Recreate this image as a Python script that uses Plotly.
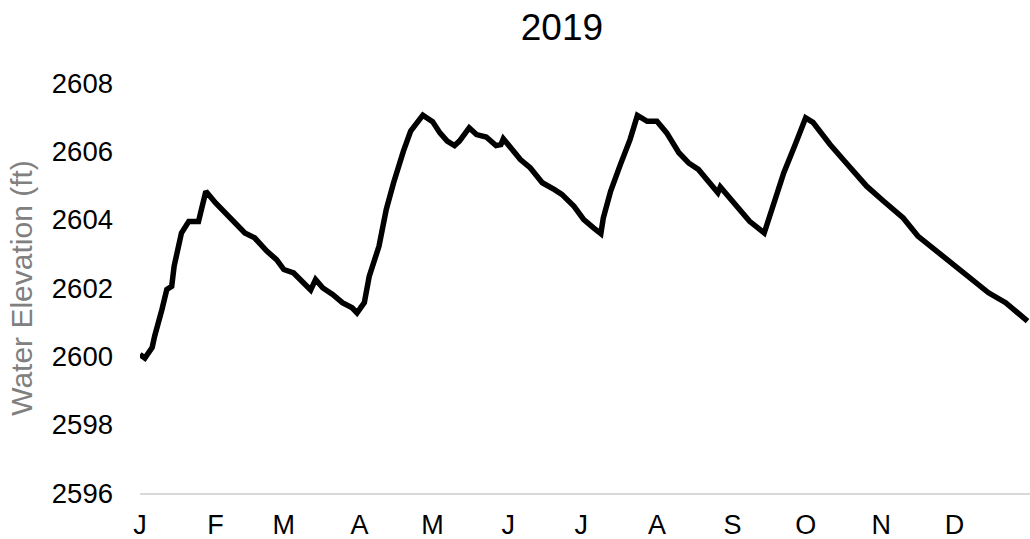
import pandas as pd
import plotly.graph_objects as go

day_of_year = [0, 2, 5, 6, 9, 11, 13, 14, 17, 18, 20, 24, 25, 27, 31, 35, 39, 43, 47, 52,
               56, 59, 63, 67, 70, 72, 75, 79, 83, 87, 89, 92, 94, 98, 101, 104, 106, 108, 111, 116,
               120, 123, 126, 129, 131, 135, 138, 142, 146, 148, 149, 152, 156, 160, 165, 170, 173, 178, 182, 186,
               189, 190, 193, 197, 201, 204, 208, 212, 216, 221, 225, 229, 233, 237, 238, 244, 250, 256, 260, 264,
               269, 273, 276, 283, 289, 298, 305, 313, 319, 326, 333, 341, 348, 355, 361, 364]
elevation = [2600.05, 2599.95, 2600.26, 2600.59, 2601.37, 2601.96, 2602.05, 2602.64, 2603.61, 2603.71,
             2603.95, 2603.95, 2604.20, 2604.83, 2604.49, 2604.20, 2603.86, 2603.61, 2603.47, 2603.08,
             2602.83, 2602.54, 2602.44, 2602.15, 2601.94, 2602.25, 2602.00, 2601.81, 2601.57, 2601.42,
             2601.27, 2601.57, 2602.34, 2603.22, 2604.30, 2605.08, 2605.56, 2606.00, 2606.59, 2607.06,
             2606.87, 2606.54, 2606.30, 2606.17, 2606.30, 2606.69, 2606.49, 2606.42, 2606.17, 2606.20,
             2606.37, 2606.10, 2605.76, 2605.52, 2605.08, 2604.88, 2604.74, 2604.39, 2604.00, 2603.76,
             2603.59, 2604.05, 2604.83, 2605.61, 2606.35, 2607.05, 2606.88, 2606.88, 2606.54, 2605.96,
             2605.66, 2605.47, 2605.12, 2604.79, 2604.96, 2604.44, 2603.95, 2603.61, 2604.49, 2605.37,
             2606.25, 2606.98, 2606.85, 2606.20, 2605.71, 2604.98, 2604.54, 2604.05, 2603.52, 2603.13,
             2602.74, 2602.30, 2601.86, 2601.57, 2601.22, 2601.03]

month_labels = ["J", "F", "M", "A", "M", "J", "J", "A", "S", "O", "N", "D"]
month_starts = [f"2019-{m:02d}-01" for m in range(1, 13)]
y_ticks = [2596, 2598, 2600, 2602, 2604, 2606, 2608]

dates = pd.Timestamp("2019-01-01") + pd.to_timedelta(day_of_year, unit="D")

fig = go.Figure()
fig.add_trace(go.Scatter(x=dates, y=elevation, mode="lines",
                         line=dict(color="black", width=5.5), showlegend=False))

fig.update_layout(
    width=1030, height=539,
    margin=dict(l=140, r=0, t=83, b=46),
    paper_bgcolor="white", plot_bgcolor="white",
    font=dict(family="Liberation Sans, Arial, sans-serif", size=27, color="black"),
    title=dict(text="2019", x=0.5456, xanchor="center", y=1 - 27 / 539, yanchor="middle",
               font=dict(size=37, color="black")),
)
fig.update_xaxes(
    range=["2019-01-01", "2020-01-01"],
    tickvals=month_starts, ticktext=month_labels,
    showgrid=False, zeroline=False,
    showline=True, linecolor="#d9d9d9", linewidth=1.5,
    ticks="", ticklabelstandoff=7, automargin=False,
    tickfont=dict(size=27, color="black"),
)
fig.update_yaxes(
    range=[2596, 2608], tickvals=y_ticks,
    showgrid=False, zeroline=False, showline=False,
    ticks="", ticklabelstandoff=26, automargin=False,
    tickfont=dict(size=27.5, color="black"),
    title=dict(text="Water Elevation (ft)", font=dict(size=30, color="#808080"), standoff=10),
)

fig.write_html("out.html", config={"displayModeBar": False},
               post_script="document.body.style.margin='0';document.body.style.overflow='hidden';")
